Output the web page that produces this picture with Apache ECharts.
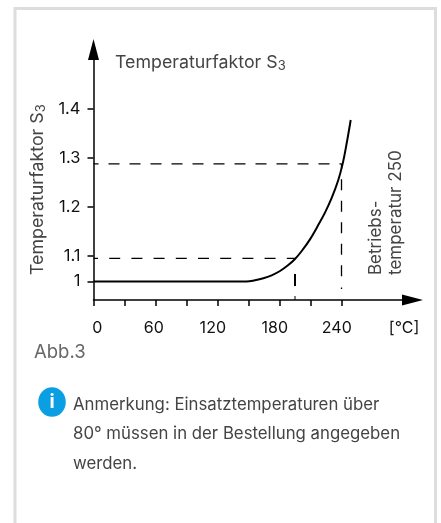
<!DOCTYPE html>
<html>
<head>
<meta charset="utf-8">
<style>
  html, body { margin: 0; padding: 0; background: #fff; }
  #chart { width: 441px; height: 523px; }
</style>
</head>
<body>
<div id="chart"></div>
<script src="https://cdn.jsdelivr.net/npm/echarts@6/dist/echarts.min.js"></script>
<script>
// curve (axis is broken below 1.1, "1" sits at 1.048)
const temps = [0, 148, 156.3, 164.4, 172.4, 180.5, 188.5, 195, 201.5, 209.5, 216.6, 224, 230.5, 236.9, 241.2, 245, 248.9]
const factors = [1.048, 1.048, 1.0505, 1.0545, 1.0606, 1.0694, 1.0816, 1.0939, 1.1102, 1.134, 1.1598, 1.1885, 1.2185, 1.2551, 1.289, 1.33, 1.3776]

const yTicks = [1.048, 1.1, 1.2, 1.3, 1.4]
const yLabels = ['1', '1.1', '1.2', '1.3', '1.4']
const xTicks = [0, 30, 60, 90, 120, 150, 180, 210, 240]
const xLabelValues = [0, 60, 120, 180, 240, 300.5]
const xLabels = ['0', '60', '120', '180', '240', '[°C]']

const guideTempLow = 195
const guideTempHigh = 240
const guideFactorLow = 1.095
const guideFactorHigh = 1.288

const AXIS_COLOR = '#000'
const TEXT_COLOR = '#444'
const FONT = 'Inter, sans-serif'

const curve = temps.map((t, i) => [t, factors[i]])

// straight guide pieces, all through the chart's own scales
const guide = (points, type, width, dashOffset) => ({
  type: 'line',
  data: points,
  symbol: 'none',
  silent: true,
  z: 1,
  lineStyle: { color: AXIS_COLOR, width: width, type: type, dashOffset: dashOffset || 0 }
})

const subStyle = { fontSize: 13, fontFamily: FONT, fill: TEXT_COLOR, padding: [8, 0, 0, 0] }

const chart = echarts.init(document.getElementById('chart'))

chart.setOption({
  animation: false,
  backgroundColor: '#fff',
  grid: { left: 93.5, right: 28.5, top: 49.5, bottom: 223 },
  xAxis: {
    type: 'value',
    min: 0,
    max: 308.7,
    splitLine: { show: false },
    axisLine: {
      onZero: false,
      symbol: ['none', 'triangle'],
      symbolSize: [11, 21],
      lineStyle: { color: AXIS_COLOR, width: 1.5 }
    },
    axisTick: { customValues: xTicks, length: 6, lineStyle: { color: AXIS_COLOR, width: 1.5 } },
    axisLabel: {
      customValues: xLabelValues,
      margin: 20,
      color: '#111',
      fontFamily: FONT,
      fontSize: 16,
      // the printed labels sit a little beside their ticks
      formatter: v => {
        const i = xLabelValues.indexOf(v)
        if (i === 0) return '{zero|' + xLabels[i] + '}'
        if (i === 1) return '{sixty|' + xLabels[i] + '}'
        if (i < 5) return '{left|' + xLabels[i] + '}'
        return xLabels[i]
      },
      rich: {
        zero: { padding: [0, 0, 0, 7.6] },
        sixty: { padding: [0, 3.4, 0, 0] },
        left: { padding: [0, 9.4, 0, 0] }
      }
    }
  },
  yAxis: {
    type: 'value',
    min: 1.0102,
    max: 1.5214,
    splitLine: { show: false },
    axisLine: {
      onZero: false,
      symbol: ['none', 'triangle'],
      symbolSize: [11, 21],
      lineStyle: { color: AXIS_COLOR, width: 1.5 }
    },
    axisTick: { customValues: yTicks, length: 6, lineStyle: { color: AXIS_COLOR, width: 1.5 } },
    axisLabel: {
      customValues: yTicks,
      margin: 13,
      color: '#111',
      fontFamily: FONT,
      fontSize: 16.5,
      padding: [0, 0, 4, 0],
      formatter: v => yLabels[yTicks.indexOf(v)]
    }
  },
  series: [
    {
      type: 'line',
      data: curve,
      smooth: 0.4,
      symbol: 'none',
      silent: true,
      z: 3,
      lineStyle: { color: AXIS_COLOR, width: 2 }
    },
    guide([[0, guideFactorHigh], [guideTempHigh, guideFactorHigh]], [11, 10], 1.3, 6),
    guide([[0, guideFactorLow], [guideTempLow, guideFactorLow]], [11, 11.2], 1.3, 6.5),
    guide([[guideTempHigh, guideFactorHigh], [guideTempHigh, 1.057]], [11, 10.5], 1.3, 6),
    guide([[guideTempHigh, 1.0357], [guideTempHigh, 1.0327]], 'solid', 1.3),
    guide([[guideTempLow, 1.0633], [guideTempLow, 1.0388]], 'solid', 2),
    guide([[guideTempLow, 1.0184], [guideTempLow, 1.0102]], 'solid', 1)
  ],
  graphic: [
    { type: 'rect', z: -1, shape: { x: 15, y: 8.5, width: 420.5, height: 530 }, style: { fill: '#fff', stroke: '#ddd', lineWidth: 3 } },
    {
      type: 'text', x: 115, y: 52,
      style: {
        text: 'Temperaturfaktor S{sub|3}',
        font: '17.8px ' + FONT,
        fill: TEXT_COLOR,
        rich: { sub: subStyle }
      }
    },
    {
      type: 'text', x: 27, y: 275, rotation: Math.PI / 2,
      style: {
        text: 'Temperaturfaktor S{sub|3}',
        font: '17.8px ' + FONT,
        fill: TEXT_COLOR,
        rich: { sub: subStyle }
      }
    },
    { type: 'text', x: 367, y: 275, rotation: Math.PI / 2, style: { text: 'Betriebs-', font: '17px ' + FONT, fill: TEXT_COLOR } },
    { type: 'text', x: 387, y: 275, rotation: Math.PI / 2, style: { text: 'temperatur 250', font: '17px ' + FONT, fill: TEXT_COLOR } },
    { type: 'text', x: 34, y: 343, style: { text: 'Abb.3', font: '18.5px ' + FONT, fill: '#666' } },
    { type: 'circle', x: 52, y: 402, scaleX: 0.93, shape: { cx: 0, cy: 0, r: 14.8 }, style: { fill: '#0a9fe3' } },
    { type: 'text', x: 52, y: 402, style: { text: 'i', font: '700 19px ' + FONT, fill: '#fff', align: 'center', verticalAlign: 'middle' } },
    { type: 'text', x: 73, y: 396, style: { text: 'Anmerkung: Einsatztemperaturen über', font: '16.8px ' + FONT, fill: TEXT_COLOR } },
    { type: 'text', x: 73, y: 425, style: { text: '80° müssen in der Bestellung angegeben', font: '16.8px ' + FONT, fill: TEXT_COLOR } },
    { type: 'text', x: 73, y: 455, style: { text: 'werden.', font: '16.8px ' + FONT, fill: TEXT_COLOR } }
  ]
})
</script>
</body>
</html>
